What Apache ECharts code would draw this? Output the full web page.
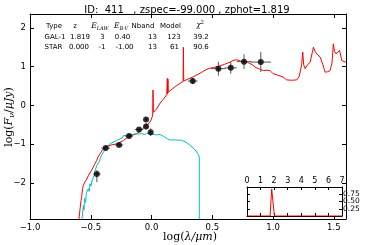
<!DOCTYPE html>
<html><head><meta charset="utf-8">
<script src="https://cdn.jsdelivr.net/npm/echarts@6/dist/echarts.min.js"></script>
<style>html,body{margin:0;padding:0;background:#fff}#c{width:368px;height:245px}</style>
</head><body><div id="c"></div>
<script>
// ---- data ----
const xTicks = [-1.0, -0.5, 0.0, 0.5, 1.0, 1.5];
const yTicks = [-2, -1, 0, 1, 2];
const insetXTicks = [0, 1, 2, 3, 4, 5, 6, 7];
const insetYTicks = [0.25, 0.5, 0.75];

// galaxy template (red)
const galX = [-0.600,-0.588,-0.580,-0.575,-0.568,-0.561,-0.555,-0.547,-0.540,-0.533,-0.525,-0.518,-0.506,-0.495,-0.479,-0.470,-0.460,-0.451,-0.440,-0.424,-0.410,-0.397,-0.380,-0.360,-0.342,-0.317,-0.286,-0.259,-0.230,-0.204,-0.180,-0.160,-0.122,-0.095,-0.070,-0.040,-0.012,0.005,0.010,0.012,0.015,0.040,0.070,0.100,0.125,0.130,0.132,0.135,0.138,0.140,0.160,0.200,0.240,0.260,0.262,0.265,0.300,0.344,0.399,0.430,0.467,0.510,0.550,0.600,0.646,0.670,0.700,0.730,0.756,0.780,0.810,0.830,0.852,0.880,0.920,0.950,0.975,1.000,1.040,1.085,1.112,1.150,1.195,1.215,1.235,1.244,1.252,1.263,1.285,1.305,1.325,1.332,1.345,1.360,1.387,1.410,1.428,1.450,1.469,1.485,1.496,1.505,1.518,1.530,1.546,1.556,1.565,1.593,1.600];
const galY = [-3.00,-2.95,-2.45,-2.37,-2.15,-2.06,-2.10,-1.97,-2.00,-1.90,-1.88,-1.80,-1.76,-1.68,-1.59,-1.53,-1.48,-1.42,-1.33,-1.25,-1.18,-1.12,-1.08,-1.05,-1.03,-1.01,-0.99,-0.95,-0.90,-0.84,-0.80,-0.77,-0.73,-0.67,-0.59,-0.51,-0.43,-0.30,-0.22,0.40,-0.18,-0.10,0.06,0.17,0.28,0.70,0.30,0.68,0.34,0.35,0.40,0.50,0.58,0.62,1.50,0.63,0.68,0.74,0.83,0.89,0.95,0.98,1.01,1.06,1.12,1.16,1.18,1.15,1.12,1.13,1.08,1.05,0.99,0.95,0.90,0.91,0.90,0.82,0.78,0.73,0.66,0.65,0.66,0.75,1.05,1.38,1.05,0.95,1.05,1.12,1.40,1.50,1.40,1.33,1.25,1.05,0.86,0.87,0.90,1.10,1.59,1.40,1.33,1.38,1.42,1.30,1.16,1.12,1.13];

// star template (cyan)
const starX = [-0.575,-0.566,-0.561,-0.556,-0.551,-0.547,-0.542,-0.536,-0.528,-0.520,-0.513,-0.506,-0.498,-0.490,-0.479,-0.472,-0.465,-0.458,-0.450,-0.443,-0.438,-0.430,-0.424,-0.417,-0.410,-0.403,-0.397,-0.385,-0.376,-0.369,-0.355,-0.342,-0.330,-0.314,-0.290,-0.259,-0.240,-0.232,-0.225,-0.204,-0.170,-0.140,-0.122,-0.100,-0.080,-0.060,-0.040,-0.022,-0.010,0.010,0.040,0.070,0.100,0.130,0.152,0.200,0.248,0.285,0.317,0.345,0.372,0.385,0.393,0.393];
const starY = [-3.00,-2.75,-2.58,-2.70,-2.40,-2.37,-2.50,-2.25,-2.30,-2.15,-2.22,-2.02,-2.08,-1.95,-1.94,-1.80,-1.68,-1.72,-1.55,-1.60,-1.50,-1.45,-1.38,-1.40,-1.28,-1.30,-1.25,-1.15,-1.12,-1.08,-1.02,-0.99,-0.97,-0.95,-0.91,-0.86,-0.84,-0.78,-0.82,-0.77,-0.75,-0.74,-0.73,-0.74,-0.72,-0.75,-0.73,-0.70,-0.76,-0.74,-0.76,-0.75,-0.80,-0.86,-0.89,-0.89,-0.90,-0.95,-1.03,-1.10,-1.20,-1.27,-1.33,-3.00];

// observed photometry
const obsX = [-0.450,-0.377,-0.267,-0.185,-0.103,-0.045,-0.045,-0.007,0.339,0.550,0.652,0.761,0.899];
const obsY = [-1.77,-1.10,-1.02,-0.79,-0.62,-0.36,-0.54,-0.69,0.63,0.95,0.97,1.13,1.12];
const obsXerr = [0.030,0.035,0.035,0.035,0.035,0.010,0.010,0.010,0.040,0.060,0.050,0.060,0.085];
const obsYerrLo = [0.21,0.05,0.04,0.04,0.04,0.05,0.08,0.10,0.08,0.18,0.15,0.19,0.26];
const obsYerrHi = [0.10,0.05,0.04,0.04,0.04,0.05,0.08,0.10,0.08,0.18,0.15,0.19,0.26];

// redshift PDF (inset)
const pdfX = [0, 1.70, 1.82, 2.02, 7];
const pdfY = [0, 0, 0.93, 0, 0];

// ---- chart ----
const fmt = v => (v < 0 ? '\u2212' : '') + Math.abs(v).toFixed(1);
const fmtI = v => (v < 0 ? '\u2212' : '') + Math.abs(v);
const sans = 'DejaVu Sans';
const serif = 'DejaVu Serif';
const axLine = {show: true, onZero: false, lineStyle: {color: '#000', width: 1}};
const tick = (len) => ({show: true, inside: true, length: len, lineStyle: {color: '#000', width: 1}});

const chart = echarts.init(document.getElementById('c'), null, {renderer: 'canvas'});
const option = {
  animation: false,
  backgroundColor: '#fff',
  grid: [
    {left: 30, top: 14, width: 316, height: 205, show: false},
    {left: 247, top: 187, width: 95, height: 29, show: true, backgroundColor: '#fff', borderWidth: 0, z: 5}
  ],
  xAxis: [
    {type: 'value', gridIndex: 0, position: 'bottom', min: -1, max: 1.6, interval: 0.5,
      axisLine: axLine, axisTick: tick(4), splitLine: {show: false},
      axisLabel: {fontFamily: sans, fontSize: 8.5, color: '#000', margin: 4, formatter: fmt, showMaxLabel: false}},
    {type: 'value', gridIndex: 0, position: 'top', min: -1, max: 1.6, interval: 0.5,
      axisLine: axLine, axisTick: tick(4), splitLine: {show: false}, axisLabel: {show: false}},
    {type: 'value', gridIndex: 1, position: 'bottom', min: 0, max: 7, interval: 1, z: 6,
      axisLine: axLine, axisTick: tick(3), splitLine: {show: false}, axisLabel: {show: false}},
    {type: 'value', gridIndex: 1, position: 'top', min: 0, max: 7, interval: 1, z: 6,
      axisLine: axLine, axisTick: tick(3), splitLine: {show: false},
      axisLabel: {fontFamily: sans, fontSize: 8, color: '#000', margin: 2, formatter: v => String(v)}}
  ],
  yAxis: [
    {type: 'value', gridIndex: 0, position: 'left', min: -2.93, max: 2.36,
      axisLine: axLine, axisTick: Object.assign(tick(4), {customValues: yTicks}), splitLine: {show: false},
      axisLabel: {fontFamily: sans, fontSize: 8.5, color: '#000', margin: 4, formatter: fmtI, customValues: yTicks}},
    {type: 'value', gridIndex: 0, position: 'right', min: -2.93, max: 2.36,
      axisLine: axLine, axisTick: Object.assign(tick(4), {customValues: yTicks}), splitLine: {show: false}, axisLabel: {show: false}},
    {type: 'value', gridIndex: 1, position: 'left', min: 0, max: 1, interval: 0.25, z: 6,
      axisLine: axLine, axisTick: tick(3), splitLine: {show: false}, axisLabel: {show: false}},
    {type: 'value', gridIndex: 1, position: 'right', min: 0, max: 1, interval: 0.25, z: 6,
      axisLine: axLine, axisTick: tick(3), splitLine: {show: false},
      axisLabel: {fontFamily: sans, fontSize: 7.5, lineHeight: 7, color: '#000', margin: 1, showMinLabel: false, showMaxLabel: false,
        formatter: v => (v > 0 && v < 1) ? v.toFixed(2) : ''}}
  ],
  series: [
    {type: 'line', xAxisIndex: 0, yAxisIndex: 0, data: galX.map((x, i) => [x, galY[i]]),
      showSymbol: false, lineStyle: {color: '#ff0000', width: 1}, z: 2, clip: true},
    {type: 'line', xAxisIndex: 0, yAxisIndex: 0, data: starX.map((x, i) => [x, starY[i]]),
      showSymbol: false, lineStyle: {color: '#00bfbf', width: 1}, z: 3, clip: true},
    {type: 'custom', xAxisIndex: 0, yAxisIndex: 0, z: 4,
      data: obsX.map((x, i) => [x, obsY[i], obsXerr[i], obsYerrLo[i], obsYerrHi[i]]),
      renderItem: function (params, api) {
        const x = api.value(0), y = api.value(1), xe = api.value(2), yl = api.value(3), yh = api.value(4);
        const a = api.coord([x - xe, y]), b = api.coord([x + xe, y]);
        const c = api.coord([x, y - yl]), d = api.coord([x, y + yh]);
        const st = {stroke: '#555', lineWidth: 1};
        return {type: 'group', children: [
          {type: 'line', shape: {x1: a[0], y1: a[1], x2: b[0], y2: b[1]}, style: st},
          {type: 'line', shape: {x1: c[0], y1: c[1], x2: d[0], y2: d[1]}, style: st}
        ]};
      }},
    {type: 'scatter', xAxisIndex: 0, yAxisIndex: 0, z: 5, data: obsX.map((x, i) => [x, obsY[i]]),
      symbol: 'circle', symbolSize: 6, itemStyle: {color: '#000'}},
    {type: 'line', xAxisIndex: 2, yAxisIndex: 2, z: 7, data: pdfX.map((x, i) => [x, pdfY[i]]),
      showSymbol: false, lineStyle: {color: '#ff0000', width: 1}}
  ],
  graphic: []
};

const g = [];
// title
g.push({type: 'text', x: 187, y: 10, z: 10, style: {text: 'ID:  411   , zspec=-99.000 , zphot=1.819', font: '10px "DejaVu Sans"', fill: '#000', align: 'center', verticalAlign: 'middle'}});
// table
const tfont = '7px "DejaVu Sans"';
const cell = (t, x, y) => g.push({type: 'text', x: x, y: y, z: 10, style: {text: t, font: tfont, fill: '#000', align: 'center', verticalAlign: 'middle'}});
const mathRich = {
  e: {fontFamily: serif, fontStyle: 'italic', fontSize: 7.5, lineHeight: 10},
  s: {fontFamily: serif, fontStyle: 'italic', fontSize: 5, verticalAlign: 'bottom', lineHeight: 6},
  p: {fontFamily: serif, fontSize: 5, verticalAlign: 'top', lineHeight: 6}
};
const hdrY = 26, r1 = 37, r2 = 47;
cell('Type', 54, hdrY); cell('z', 75, hdrY);
g.push({type: 'text', x: 100, y: hdrY, z: 10, style: {text: '{e|E}{s|LAW}', rich: mathRich, fill: '#000', align: 'center', verticalAlign: 'middle'}});
g.push({type: 'text', x: 121, y: hdrY, z: 10, style: {text: '{e|E}{s|B-V}', rich: mathRich, fill: '#000', align: 'center', verticalAlign: 'middle'}});
cell('Nband', 143, hdrY); cell('Model', 170.5, hdrY);
g.push({type: 'text', x: 200, y: hdrY - 1, z: 10, style: {text: '{e|\u03c7}{p|2}', rich: mathRich, fill: '#000', align: 'center', verticalAlign: 'middle'}});
cell('GAL-1', 55, r1); cell('1.819', 80, r1); cell('3', 102.5, r1); cell('0.40', 122.5, r1); cell('13', 152.5, r1); cell('123', 174, r1); cell('39.2', 201, r1);
cell('STAR', 53.5, r2); cell('0.000', 79, r2); cell('-1', 102, r2); cell('-1.00', 124.5, r2); cell('13', 152.5, r2); cell('61', 174.5, r2); cell('90.6', 201, r2);
// axis labels
const labRich = {
  n: {fontFamily: serif, fontSize: 11, lineHeight: 14},
  i: {fontFamily: serif, fontStyle: 'italic', fontSize: 11, lineHeight: 14},
  s: {fontFamily: serif, fontStyle: 'italic', fontSize: 8, verticalAlign: 'bottom', lineHeight: 8}
};
g.push({type: 'text', x: 190, y: 237, z: 10, style: {text: '{n|log(}{i|\u03bb/\u03bcm}{n|)}', rich: labRich, fill: '#000', align: 'center', verticalAlign: 'middle'}});
g.push({type: 'text', x: 9, y: 117, rotation: Math.PI / 2, z: 10, style: {text: '{n|log(}{i|F}{s|\u03bd}{n|/}{i|\u03bcJy}{n|)}', rich: labRich, fill: '#000', align: 'center', verticalAlign: 'middle'}});
option.graphic = g;
chart.setOption(option);
</script>
</body></html>
